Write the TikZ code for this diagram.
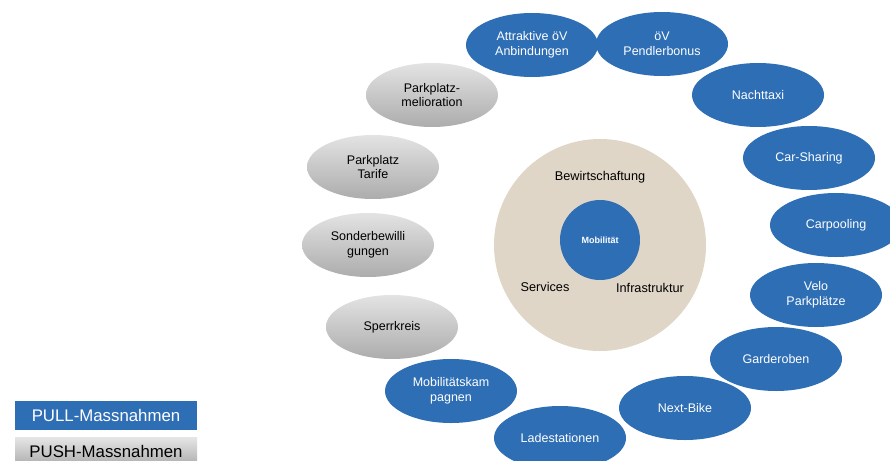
\documentclass[tikz,border=0pt]{standalone}
\usepackage{fontspec}
\setmainfont{Liberation Sans}
\usetikzlibrary{shapes.geometric}
\definecolor{pullblue}{RGB}{46,110,181}
\definecolor{beige}{RGB}{224,214,199}
\tikzset{
    pull/.style={ellipse, fill=pullblue, text=white, minimum width=132pt, minimum height=64pt, inner sep=0pt, align=center, font=\fontsize{12.5}{14.5}\selectfont},
    push/.style={ellipse, top color=gray!22, bottom color=gray!65, text=black, minimum width=132pt, minimum height=64pt, inner sep=0pt, align=center, font=\fontsize{12.5}{14.5}\selectfont},
}
\begin{document}
\begin{tikzpicture}[x=1pt, y=-1pt]
        \clip (0,0) rectangle (890,460);
        \fill[white] (0,0) rectangle (890,460);
        % Kern
        \node[circle, fill=beige, minimum size=212pt, inner sep=0pt] at (600,245) (ring){};
        \node[circle, fill=pullblue, minimum size=80pt, inner sep=0pt, text=white, font=\fontsize{9}{10}\selectfont\bfseries] at (600,240) (mob){Mobilität};
        \node[font=\fontsize{12.7}{14}\selectfont] at (600,177) (bew){Bewirtschaftung};
        \node[font=\fontsize{12.7}{14}\selectfont] at (545,287) (serv){Services};
        \node[font=\fontsize{12.7}{14}\selectfont] at (650,288) (infra){Infrastruktur};
        % PULL
        \node[pull] at (532,45) (attr){Attraktive öV\\Anbindungen};
        \node[pull] at (662,44) (pendler){öV\\Pendlerbonus};
        \node[pull] at (758,95) (taxi){Nachttaxi};
        \node[pull] at (809,158) (carsh){Car-Sharing};
        \node[pull] at (836,225) (carpool){Carpooling};
        \node[pull] at (816,295) (velo){Velo\\Parkplätze};
        \node[pull] at (776,359) (garde){Garderoben};
        \node[pull] at (685,408) (nextb){Next-Bike};
        \node[pull] at (560,438) (lade){Ladestationen};
        \node[pull] at (451,391) (kamp){Mobilitätskam\\pagnen};
        % PUSH
        \node[push] at (392,327) (sperr){Sperrkreis};
        \node[push] at (368,245) (sonder){Sonderbewilli\\gungen};
        \node[push] at (373,167) (tarif){Parkplatz\\Tarife};
        \node[push] at (432,95) (melio){Parkplatz-\\melioration};
        % Legende
        \node[fill=pullblue, text=white, minimum width=182pt, minimum height=29pt, inner sep=0pt, font=\fontsize{16.8}{18}\selectfont] at (106,415.5) (legpull){PULL-Massnahmen};
        \node[top color=gray!20, bottom color=gray!65, text=black, minimum width=182pt, minimum height=29pt, inner sep=0pt, font=\fontsize{16.8}{18}\selectfont] at (106,451.5) (legpush){PUSH-Massnahmen};
    \end{tikzpicture}
\end{document}
